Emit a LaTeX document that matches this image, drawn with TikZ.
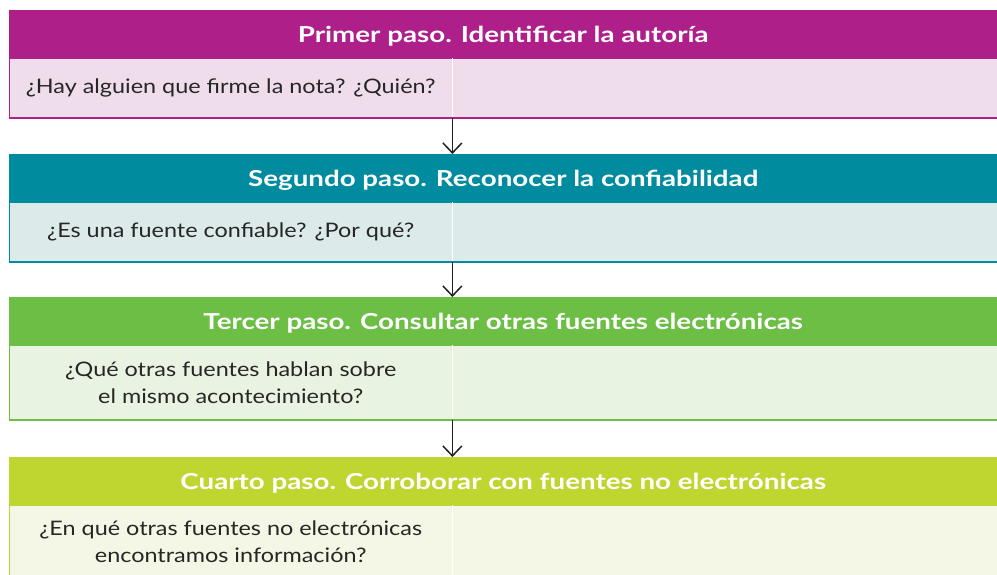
\documentclass[tikz,border=0pt]{standalone}
\usepackage{fontspec}
\setmainfont{Lato}[FakeStretch=1.17]
\newfontfamily\headfont{Lato}[FakeStretch=1.26]
\usepackage{xcolor}
\usepackage{tikz}
\usetikzlibrary{arrows.meta,positioning}

\definecolor{paso1}{HTML}{AE1F8A}
\definecolor{paso1bg}{HTML}{EFDDEB}
\definecolor{paso2}{HTML}{008B9F}
\definecolor{paso2bg}{HTML}{DCEBEA}
\definecolor{paso3}{HTML}{6CBE45}
\definecolor{paso3bg}{HTML}{E9F3E2}
\definecolor{paso4}{HTML}{BED62F}
\definecolor{paso4bg}{HTML}{F4F7E6}

\begin{document}
\begin{tikzpicture}[
  x=1pt, y=-1pt,
  header/.style={fill=#1, draw=#1, anchor=north west, minimum width=988pt,
    minimum height=47pt, inner sep=0pt, text=white,
    text height=20pt, text depth=2pt,
    font=\headfont\bfseries\fontsize{22}{26}\selectfont},
  panel/.style={fill=#1bg, draw=#1, line width=1.2pt, anchor=north west,
    minimum width=988pt, inner sep=0pt},
  question/.style={anchor=west, minimum width=443pt, inner sep=0pt,
    align=center, text=black!85, font=\fontsize{20}{27}\selectfont},
  divider/.style={white, line width=1.6pt, shorten >=0.8pt},
  flow/.style={-{Straight Barb[length=10pt,width=19pt]}, line width=1.5pt, black!88}
]
\useasboundingbox (0,0) rectangle (997,574);

% Step 1
\node[header=paso1] (h1) at (9,10) {Primer paso. Identificar la autoría};
\node[panel=paso1, minimum height=60pt] (b1) at (h1.south west) {};
\node[question, minimum height=60pt] (q1) at (b1.west) {¿Hay alguien que firme la nota? ¿Quién?};
\draw[divider] (q1.north east) -- (q1.south east);

% Step 2
\node[header=paso2] (h2) at (9,154) {Segundo paso. Reconocer la confiabilidad};
\node[panel=paso2, minimum height=60pt] (b2) at (h2.south west) {};
\node[question, minimum height=60pt] (q2) at (b2.west) {¿Es una fuente confiable? ¿Por qué?};
\draw[divider] (q2.north east) -- (q2.south east);

% Step 3
\node[header=paso3] (h3) at (9,297) {Tercer paso. Consultar otras fuentes electrónicas};
\node[panel=paso3, minimum height=75pt] (b3) at (h3.south west) {};
\node[question, minimum height=75pt] (q3) at (b3.west) {¿Qué otras fuentes hablan sobre\\el mismo acontecimiento?};
\draw[divider] (q3.north east) -- (q3.south east);

% Step 4
\node[header=paso4] (h4) at (9,457) {Cuarto paso. Corroborar con fuentes no electrónicas};
\node[panel=paso4, minimum height=73pt] (b4) at (h4.south west) {};
\node[question, minimum height=73pt] (q4) at (b4.west) {¿En qué otras fuentes no electrónicas\\encontramos información?};
\draw[divider] (q4.north east) -- (q4.south east);

% Arrows
\draw[flow] (q1.south east) -- (h2.north -| q1.east);
\draw[flow] (q2.south east) -- (h3.north -| q2.east);
\draw[flow] (q3.south east) -- (h4.north -| q3.east);

\end{tikzpicture}
\end{document}
